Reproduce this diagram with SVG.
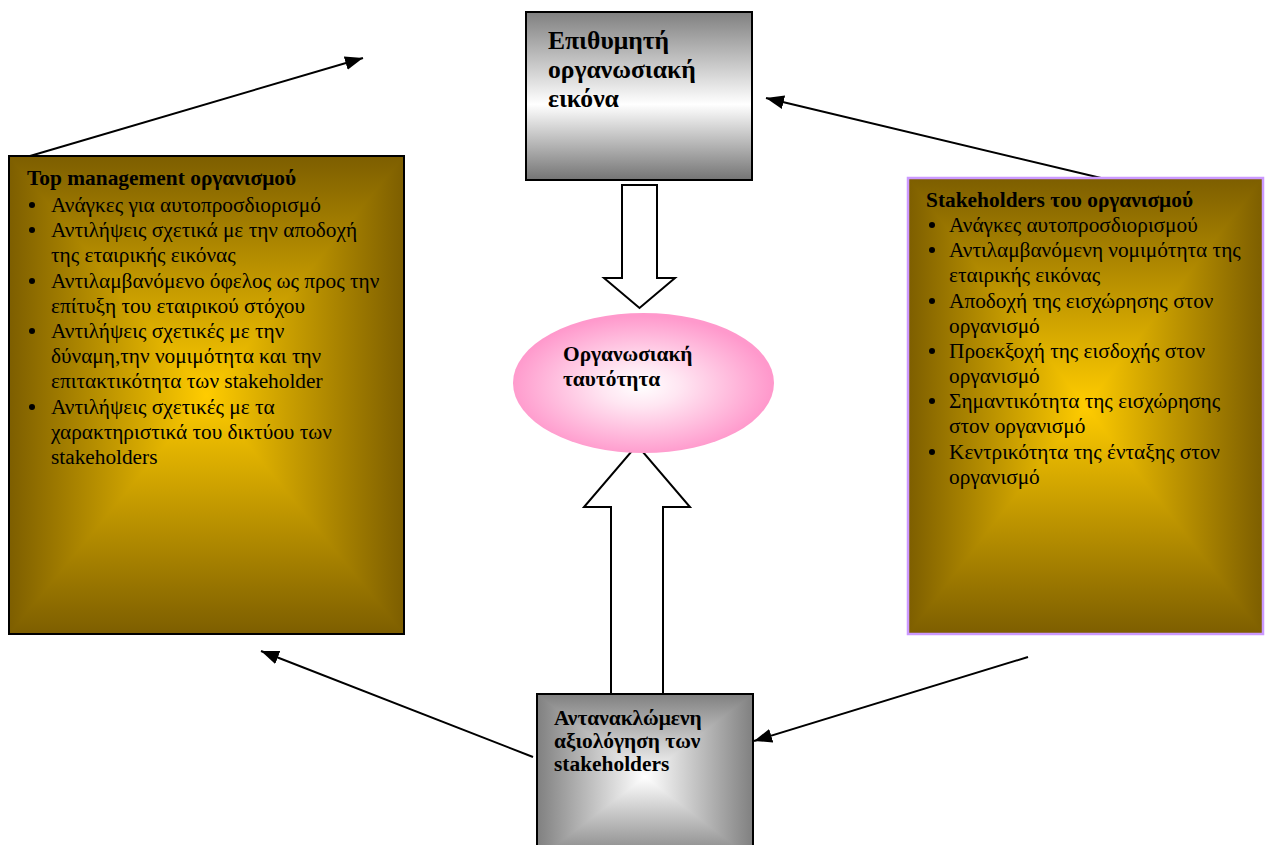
<svg xmlns="http://www.w3.org/2000/svg" width="1268" height="845" viewBox="0 0 1268 845">
<style>
.t{font-family:"Liberation Serif","Times New Roman",serif;fill:#000}
.b{font-weight:bold}
.big{font-size:25.6px}
.mid{font-size:21.4px}
.li{font-size:21.3px}
.hd{font-size:21.4px;font-weight:bold}
.conn{stroke:#000;stroke-width:2;fill:none}
.blk{fill:#fff;stroke:#000;stroke-width:2;stroke-linejoin:miter}
.tri{shape-rendering:crispEdges}
</style>
<defs>
<linearGradient id="oT" x1="0" y1="0" x2="0" y2="1"><stop offset="0" stop-color="#7d5e00"/><stop offset="1" stop-color="#ffcc00"/></linearGradient>
<linearGradient id="oB" x1="0" y1="1" x2="0" y2="0"><stop offset="0" stop-color="#7d5e00"/><stop offset="1" stop-color="#ffcc00"/></linearGradient>
<linearGradient id="oL" x1="0" y1="0" x2="1" y2="0"><stop offset="0" stop-color="#7d5e00"/><stop offset="1" stop-color="#ffcc00"/></linearGradient>
<linearGradient id="oR" x1="1" y1="0" x2="0" y2="0"><stop offset="0" stop-color="#7d5e00"/><stop offset="1" stop-color="#ffcc00"/></linearGradient>
<linearGradient id="gT" x1="0" y1="0" x2="0" y2="1"><stop offset="0" stop-color="#808080"/><stop offset="1" stop-color="#ffffff"/></linearGradient>
<linearGradient id="gB" x1="0" y1="1" x2="0" y2="0"><stop offset="0" stop-color="#808080"/><stop offset="1" stop-color="#ffffff"/></linearGradient>
<linearGradient id="gL" x1="0" y1="0" x2="1" y2="0"><stop offset="0" stop-color="#808080"/><stop offset="1" stop-color="#ffffff"/></linearGradient>
<linearGradient id="gR" x1="1" y1="0" x2="0" y2="0"><stop offset="0" stop-color="#808080"/><stop offset="1" stop-color="#ffffff"/></linearGradient>
<linearGradient id="gV" x1="0" y1="0" x2="0" y2="1"><stop offset="0" stop-color="#808080"/><stop offset="0.55" stop-color="#ffffff"/><stop offset="1" stop-color="#747474"/></linearGradient>
<radialGradient id="pink" cx="0.49" cy="0.52" r="0.5"><stop offset="0" stop-color="#ffffff"/><stop offset="0.3" stop-color="#ffe6f2"/><stop offset="1" stop-color="#ff99cc"/></radialGradient>
<marker id="ah" markerUnits="userSpaceOnUse" markerWidth="20" markerHeight="14" refX="18" refY="7" orient="auto"><path d="M0,0 L18,7 L0,14 Z" fill="#000"/></marker>
</defs>
<rect width="1268" height="845" fill="#fff"/>

<g id="connectors">
<line class="conn" x1="30" y1="156" x2="363" y2="58" marker-end="url(#ah)"/>
<line class="conn" x1="1101" y1="178" x2="766" y2="98" marker-end="url(#ah)"/>
<line class="conn" x1="533" y1="757" x2="261" y2="651" marker-end="url(#ah)"/>
<line class="conn" x1="1028" y1="657" x2="754" y2="741" marker-end="url(#ah)"/>
<polygon class="blk" points="622,185 657,185 657,278 675,278 639.5,308 604,278 622,278"/>
<polygon class="blk" points="611,694 611,507 584,507 637,445 690,507 663,507 663,694"/>
</g>

<g id="top-box">
<rect x="526" y="12" width="226" height="168" fill="url(#gV)" stroke="#000" stroke-width="2"/>
<text class="t b big" x="548" y="49">Επιθυμητή</text>
<text class="t b big" x="548" y="78">οργανωσιακή</text>
<text class="t b big" x="548" y="107">εικόνα</text>
</g>

<g id="identity">
<ellipse cx="643.5" cy="383" rx="130.5" ry="70" fill="url(#pink)"/>
<text class="t b mid" x="563" y="361">Οργανωσιακή</text>
<text class="t b mid" x="563" y="386">ταυτότητα</text>
</g>

<g id="top-management">
<rect x="9" y="156" width="395" height="478" fill="#b89000"/>
<polygon class="tri" points="9,156 404,156 206.5,395" fill="url(#oT)"/>
<polygon class="tri" points="9,634 404,634 206.5,395" fill="url(#oB)"/>
<polygon class="tri" points="9,156 9,634 206.5,395" fill="url(#oL)"/>
<polygon class="tri" points="404,156 404,634 206.5,395" fill="url(#oR)"/>
<rect x="9" y="156" width="395" height="478" fill="none" stroke="#000" stroke-width="2"/>
<text class="t hd" x="27" y="185">Top management οργανισμού</text>
<g class="t li">
<circle cx="32" cy="205" r="3"/><text x="51" y="212">Ανάγκες για αυτοπροσδιορισμό</text>
<circle cx="32" cy="230" r="3"/><text x="51" y="237">Αντιλήψεις σχετικά με την αποδοχή</text>
<text x="51" y="262">της εταιρικής εικόνας</text>
<circle cx="32" cy="281" r="3"/><text x="51" y="288">Αντιλαμβανόμενο όφελος ως προς την</text>
<text x="51" y="313">επίτυξη του εταιρικού στόχου</text>
<circle cx="32" cy="331" r="3"/><text x="51" y="338">Αντιλήψεις σχετικές με την</text>
<text x="51" y="363">δύναμη,την νομιμότητα και την</text>
<text x="51" y="388">επιτακτικότητα των stakeholder</text>
<circle cx="32" cy="407" r="3"/><text x="51" y="414">Αντιλήψεις σχετικές με τα</text>
<text x="51" y="439">χαρακτηριστικά του δικτύου των</text>
<text x="51" y="464">stakeholders</text>
</g>
</g>

<g id="stakeholders">
<rect x="908" y="178" width="355" height="456" fill="#b89000"/>
<polygon class="tri" points="908,178 1263,178 1085.5,406" fill="url(#oT)"/>
<polygon class="tri" points="908,634 1263,634 1085.5,406" fill="url(#oB)"/>
<polygon class="tri" points="908,178 908,634 1085.5,406" fill="url(#oL)"/>
<polygon class="tri" points="1263,178 1263,634 1085.5,406" fill="url(#oR)"/>
<rect x="908" y="178" width="355" height="456" fill="none" stroke="#cc99ff" stroke-width="2.5"/>
<text class="t hd" x="926" y="207">Stakeholders του οργανισμού</text>
<g class="t li">
<circle cx="932" cy="225" r="3"/><text x="949" y="232">Ανάγκες αυτοπροσδιορισμού</text>
<circle cx="932" cy="250" r="3"/><text x="949" y="257">Αντιλαμβανόμενη νομιμότητα της</text>
<text x="949" y="282">εταιρικής εικόνας</text>
<circle cx="932" cy="301" r="3"/><text x="949" y="308">Αποδοχή της εισχώρησης στον</text>
<text x="949" y="333">οργανισμό</text>
<circle cx="932" cy="351" r="3"/><text x="949" y="358">Προεκξοχή της εισδοχής στον</text>
<text x="949" y="383">οργανισμό</text>
<circle cx="932" cy="401" r="3"/><text x="949" y="408">Σημαντικότητα της εισχώρησης</text>
<text x="949" y="433">στον οργανισμό</text>
<circle cx="932" cy="452" r="3"/><text x="949" y="459">Κεντρικότητα της ένταξης στον</text>
<text x="949" y="484">οργανισμό</text>
</g>
</g>

<g id="reflected-evaluation">
<rect x="537" y="694" width="216" height="166" fill="#c0c0c0"/>
<polygon class="tri" points="537,694 753,694 645,777" fill="url(#gT)"/>
<polygon class="tri" points="537,860 753,860 645,777" fill="url(#gB)"/>
<polygon class="tri" points="537,694 537,860 645,777" fill="url(#gL)"/>
<polygon class="tri" points="753,694 753,860 645,777" fill="url(#gR)"/>
<rect x="537" y="694" width="216" height="166" fill="none" stroke="#000" stroke-width="2"/>
<text class="t b mid" x="554" y="725">Αντανακλώμενη</text>
<text class="t b mid" x="554" y="748">αξιολόγηση των</text>
<text class="t b mid" x="554" y="771">stakeholders</text>
</g>
</svg>
